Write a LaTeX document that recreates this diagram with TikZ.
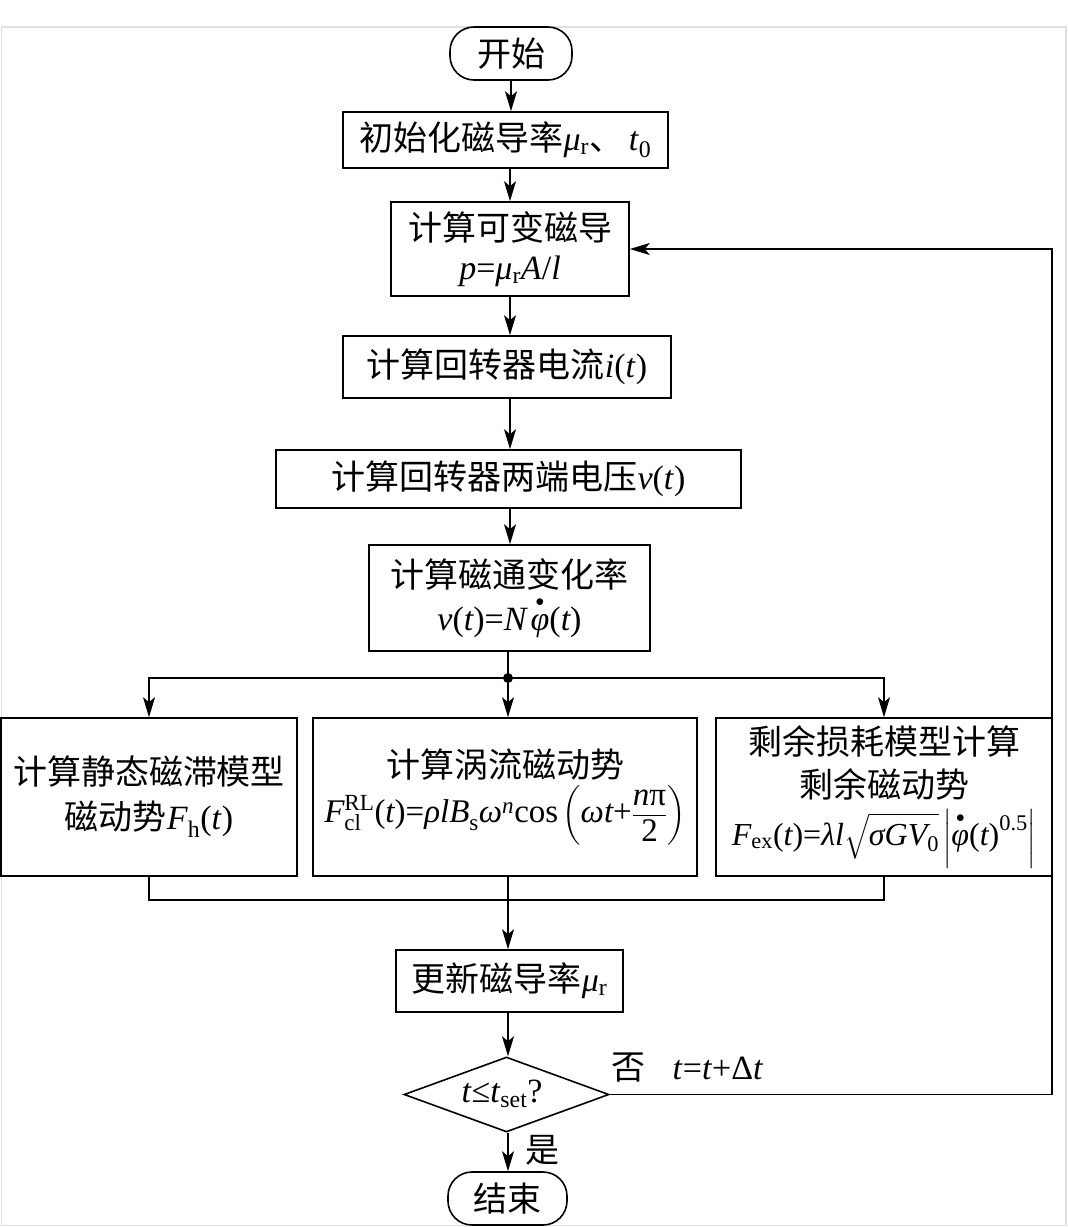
\documentclass[tikz,border=0pt]{standalone}
\usepackage{fontspec}
\usepackage{amsmath}
\setmainfont{Liberation Serif}
\newfontfamily\cjk{Noto Sans CJK SC}
\usetikzlibrary{arrows.meta,shapes.geometric}
\newcommand\mi[1]{\textit{#1}}
\newcommand\cn[1]{{\cjk #1}}
\newcommand\phidot{\overset{\raisebox{3pt}{$\scriptscriptstyle\bullet$}}{\mi{φ}}}
\tikzset{
  box/.style={draw, line width=1.6pt, align=center, inner sep=0pt,
    font=\fontsize{34}{43}\selectfont},
  term/.style={box, rounded corners=24pt},
  arr/.style={line width=1.6pt, -{Stealth[length=20pt,width=12pt,inset=5pt]}},
  ln/.style={line width=1.6pt},
  lbl/.style={inner sep=0pt, font=\fontsize{34}{40}\selectfont},
}
\begin{document}
\begin{tikzpicture}[x=1pt,y=-1pt]
\useasboundingbox (0,0) rectangle (1068,1227);
\draw[black!12, line width=1.5pt] (1.5,27) rectangle (1066,1225.5);

\node[term, minimum width=122pt, minimum height=53pt] (start) at (511,53.5) {\cn{开始}};
\node[box, minimum width=325pt, minimum height=56pt] (init) at (505.5,140) {\cn{初始化磁导率}\mi{μ}\textsubscript{r}\cn{、}\,\mi{t}\textsubscript{0}};
\node[box, minimum width=238pt, minimum height=94pt] (magn) at (510,249) {\cn{计算可变磁导}\\[-4pt]\mi{p}=\mi{μ}\textsubscript{r}\mi{A}/\mi{l}};
\node[box, minimum width=328pt, minimum height=62pt] (curr) at (507,367) {\cn{计算回转器电流}\mi{i}(\mi{t})};
\node[box, minimum width=465pt, minimum height=58pt] (volt) at (508.5,479) {\cn{计算回转器两端电压}\mi{v}(\mi{t})};
\node[box, minimum width=281pt, minimum height=106pt] (flux) at (509.5,598) {\cn{计算磁通变化率}\\[0pt]$\mi{v}\textrm{(}\mi{t}\textrm{)=}\mi{N}\,\phidot\textrm{(}\mi{t}\textrm{)}$};

\coordinate (j) at (508,678);
\node[box, minimum width=296pt, minimum height=158pt] (hyst) at (149,797) {\cn{计算静态磁滞模型}\\[2pt]\cn{磁动势}\mi{F}\textsubscript{h}(\mi{t})};
\node[box, minimum width=384pt, minimum height=158pt] (eddy) at (505,797) {\cn{计算涡流磁动势}\\[2pt]\fontsize{33}{38}\selectfont$\mi{F}^{\textrm{RL}}_{\textrm{cl}}\textrm{(}\mi{t}\textrm{)=}\mi{ρlB}_{\textrm{s}}\mi{ω}^{\mi{n}}\textrm{cos}\left(\mi{ωt}\textrm{+}\dfrac{\mi{n}\textrm{π}}{\textrm{2}}\right)$};
\node[box, minimum width=336pt, minimum height=158pt] (exc) at (884,797) {\cn{剩余损耗模型计算}\\[0pt]\cn{剩余磁动势}\\[5pt]\fontsize{32}{38}\selectfont$\mi{F}_{\textrm{ex}}\textrm{(}\mi{t}\textrm{)=}\mi{λl}\sqrt{\mi{σGV}_{\textrm{0}}}\left|\phidot\textrm{(}\mi{t}\textrm{)}^{\textrm{0.5}}\right|$};

\coordinate (m) at (508,900);
\node[box, minimum width=227pt, minimum height=62pt] (upd) at (509.5,981) {\cn{更新磁导率}\mi{μ}\textsubscript{r}};
\node[draw, line width=1.6pt, diamond, aspect=2.73, minimum width=205pt, minimum height=75pt, inner sep=0pt] (dec) at (506.5,1094.5) {};
\node[lbl] (dect) at (502,1094) {\mi{t}≤\mi{t}\textsubscript{set}?};
\node[term, minimum width=119pt, minimum height=53pt] (end) at (507.5,1198.5) {\cn{结束}};
\coordinate (rc) at (1052,1094.5);

\node[lbl] (no) at (628,1068) {\cn{否}};
\node[lbl] (inc) at (718,1068) {\mi{t}=\mi{t}+Δ\mi{t}};
\node[lbl] (yes) at (542,1150) {\cn{是}};

\draw[arr] (start.south) -- (start.south |- init.north);
\draw[arr] (init.south -| magn.south) -- (magn.north);
\draw[arr] (magn.south) -- (magn.south |- curr.north);
\draw[arr] (magn.south |- curr.south) -- (magn.south |- volt.north);
\draw[arr] (magn.south |- volt.south) -- (magn.south |- flux.north);
\draw[ln] (flux.south -| j) -- (j);
\fill (j) circle (5pt);
\draw[arr] (j) -| (hyst.north);
\draw[arr] (j) -| (exc.north);
\draw[arr] (j) -- (j |- eddy.north);
\draw[ln] (hyst.south) -- (hyst.south |- m) -- (exc.south |- m) -- (exc.south);
\draw[arr] (j |- eddy.south) -- (j |- upd.north);
\draw[arr] (j |- upd.south) -- (j |- dec.north);
\draw[arr] (j |- dec.south) -- (j |- end.north);
\draw[arr] (dec.east) -- (rc) |- (magn.east);
\end{tikzpicture}
\end{document}
